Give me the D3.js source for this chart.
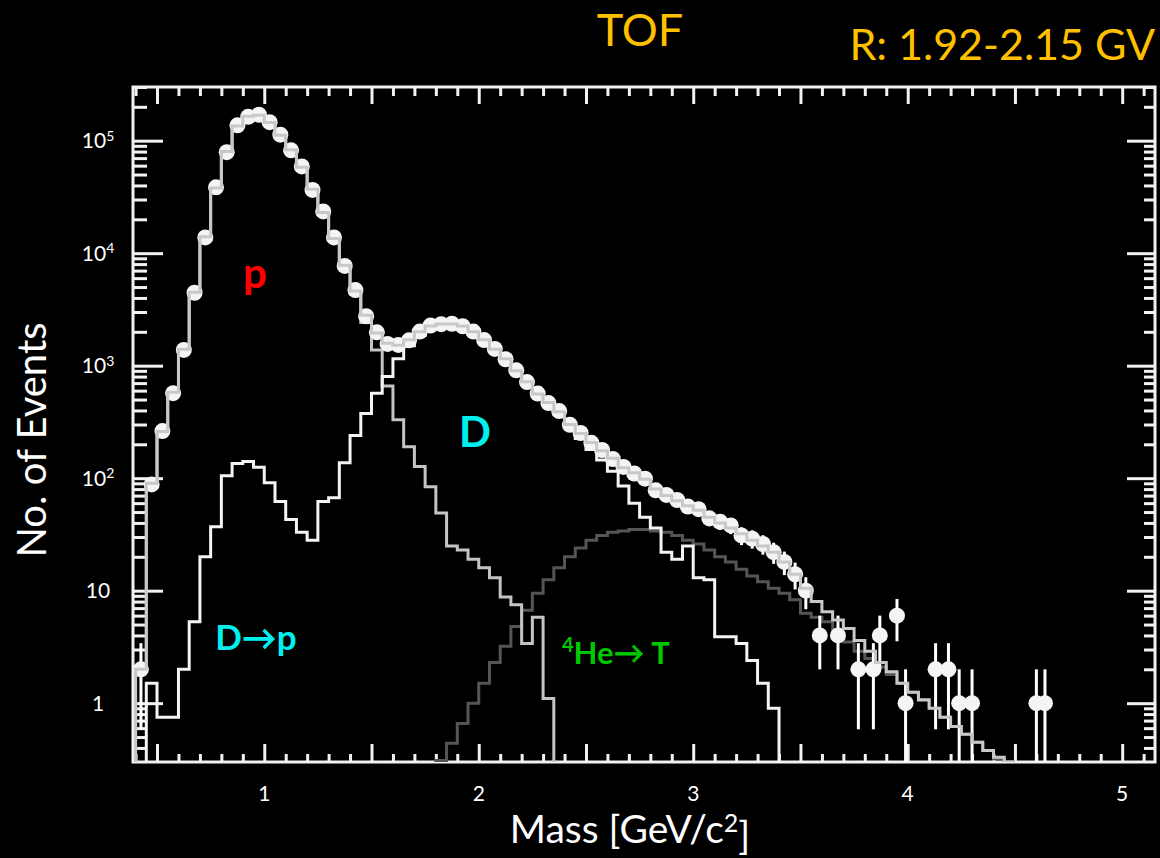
<!DOCTYPE html>
<html>
<head>
<meta charset="utf-8">
<script src="https://cdn.jsdelivr.net/npm/d3@7"></script>
<style>
  body { margin: 0; background: #000; }
  text { font-family: Lato, "Open Sans", sans-serif; }
</style>
</head>
<body>
<script>
// Histogram bins are 0.05 GeV/c^2 wide; each series lists counts from its first bin edge
const BIN = 0.05;

const totalStart = 0.40;
const totalCounts = [
  2, 90, 260, 580, 1400, 4500, 14000, 38000, 80000, 135000,
  165000, 168000, 145000, 112000, 83000, 58000, 37000, 23000, 13500, 7800,
  4600, 2800, 1950, 1580, 1520, 1700, 2000, 2250, 2350, 2350,
  2250, 2000, 1700, 1400, 1150, 900, 720, 560, 470, 390,
  300, 250, 208, 175, 150, 124, 112, 98, 80, 70,
  63, 57, 52, 45, 40, 36, 32, 28, 25, 22,
  18, 14, 10.5, 8, 6.5, 5.5, 4.6, 3.6, 2.9, 2.3,
  1.9, 1.5, 1.25, 1.07, 0.9, 0.75, 0.62, 0.53, 0.45, 0.38,
  0.33, 0.3
];

const protonStart = 0.40;
const protonCounts = [
  2, 88, 259, 579, 1398, 4495, 13980, 37960, 79900, 134870,
  164860, 167870, 144910, 111940, 82960, 57970, 36970, 22940, 13430, 7660,
  4360, 2425, 1380, 660, 330, 190, 127, 84, 49, 25,
  23, 19, 16, 13, 8.8, 7.5, 3.4, 5.8, 1.1
];

const deuteronStart = 0.45;
const deuteronCounts = [
  1.5, 0.75, 0.75, 2, 5.3, 20, 37, 105, 135, 141,
  125, 91, 62, 43, 33, 28, 62, 67, 137, 240,
  375, 570, 800, 1150, 1500, 1850, 2150, 2280, 2320, 2220,
  1980, 1680, 1380, 1130, 880, 700, 545, 450, 370, 280,
  225, 180, 145, 115, 85, 60, 45, 36, 22, 19,
  25, 13, 12.5, 3.9, 3.9, 3.4, 2.4, 1.5, 0.9
];

const tritonStart = 1.80;
const tritonCounts = [
  0.31, 0.44, 0.66, 1.0, 1.5, 2.3, 3.2, 4.8, 6.7, 9.5,
  12.5, 16, 20, 24, 28, 31, 33, 34, 35, 35,
  34, 33, 31, 28, 26, 23, 20, 18, 15.5, 13.5,
  12, 10.5, 9.5, 8.3, 6.3, 5.8, 5.3, 4.2, 3.5, 2.9,
  2.5, 2.1, 1.8, 1.5, 1.25, 1.06, 0.9, 0.75, 0.62, 0.53,
  0.45, 0.38, 0.32, 0.3
];

// Measured points, one per total bin (null = no point drawn)
const pointCounts = [
  2, 88, 262, 570, 1380, 4450, 13800, 38500, 79000, 137000,
  163000, 170000, 146000, 113000, 82000, 59000, 36500, 23500, 13800, 7700,
  4700, 2750, 1980, 1560, 1530, 1680, 2010, 2270, 2340, 2360,
  2240, 2010, 1690, 1410, 1140, 910, 715, 565, 465, 395,
  298, 252, 206, 178, 148, 126, 110, 99, 78, 71,
  64, 56, 53, 44, 41, 38, 31, 29, 26, 22,
  18, 14, 10
];
// Sparse tail points
const tailMass = [3.59, 3.675, 3.77, 3.84, 3.87, 3.95, 3.99, 4.13, 4.19, 4.24, 4.30, 4.60, 4.64];
const tailCounts = [4, 4, 2, 2, 4, 6, 1, 2, 2, 1, 1, 1, 1];

const yDecades = [1, 10, 100, 1000, 10000, 100000];
const yDecadeExp = ['', '', '2', '3', '4', '5'];
const xLabels = [1, 2, 3, 4, 5];

const W = 1160, H = 858;
const X0 = 133, X1 = 1155, Y0 = 87, Y1 = 762;
const FLOOR = 0.3;

const svg = d3.select('body').append('svg')
  .attr('width', W)
  .attr('height', H)
  .style('background', '#000');

const x = d3.scaleLinear().domain([0.388, 5.153]).range([X0, X1]);
const y = d3.scaleLog().domain([FLOOR, 3e5]).range([Y1, Y0]);

svg.append('clipPath').attr('id', 'plot-clip')
  .append('rect')
    .attr('x', X0).attr('y', Y0 - 2)
    .attr('width', X1 - X0).attr('height', Y1 - Y0 + 2);

// Tick marks on all four sides, pointing into the frame
const xAll = d3.range(0.4, 5.15, 0.1).map(v => +v.toFixed(2));
const isHalf = v => Math.abs(v * 2 - Math.round(v * 2)) < 1e-6;
const xMajor = xAll.filter(isHalf);
const xMinor = xAll.filter(v => !isHalf(v));
const yMinor = y.ticks().filter(v => !yDecades.includes(v) && v > FLOOR);

function tickAxis(axis, values, size, tx, ty) {
  const g = svg.append('g')
    .attr('class', 'ticks')
    .attr('transform', `translate(${tx}, ${ty})`)
    .call(axis.tickValues(values).tickSize(size).tickFormat(''));
  g.select('.domain').remove();
  g.selectAll('line').attr('stroke', '#f2f2f2').attr('stroke-width', 3);
}

tickAxis(d3.axisBottom(x), xMajor, 17, 0, Y0);
tickAxis(d3.axisBottom(x), xMinor, 9, 0, Y0);
tickAxis(d3.axisTop(x), xMajor, 18, 0, Y1);
tickAxis(d3.axisTop(x), xMinor, 8, 0, Y1);
tickAxis(d3.axisRight(y), yDecades, 30, X0, 0);
tickAxis(d3.axisRight(y), yMinor, 14, X0, 0);
tickAxis(d3.axisLeft(y), yDecades, 28, X1, 0);
tickAxis(d3.axisLeft(y), yMinor, 11, X1, 0);

// Frame
svg.append('rect')
  .attr('x', X0).attr('y', Y0)
  .attr('width', X1 - X0).attr('height', Y1 - Y0)
  .attr('fill', 'none')
  .attr('stroke', '#f2f2f2')
  .attr('stroke-width', 3);

// Step histograms
function stepPoints(start, counts) {
  const end = start + counts.length * BIN;
  const pts = [[start, FLOOR]];
  counts.forEach((c, i) => pts.push([start + i * BIN, c]));
  pts.push([end, counts[counts.length - 1]]);
  pts.push([end, FLOOR]);
  return pts;
}

const step = d3.line()
  .curve(d3.curveStepAfter)
  .x(d => x(d[0]))
  .y(d => y(Math.max(d[1], FLOOR)));

const plot = svg.append('g').attr('clip-path', 'url(#plot-clip)');

plot.append('path')
  .attr('d', step(stepPoints(tritonStart, tritonCounts)))
  .attr('fill', 'none').attr('stroke', '#555').attr('stroke-width', 3);

plot.append('path')
  .attr('d', step(stepPoints(protonStart, protonCounts)))
  .attr('fill', 'none').attr('stroke', '#c4c4c4').attr('stroke-width', 3);

plot.append('path')
  .attr('d', step(stepPoints(deuteronStart, deuteronCounts)))
  .attr('fill', 'none').attr('stroke', '#f4f4f4').attr('stroke-width', 3);

// Data points with Poisson error bars
const points = pointCounts
  .map((c, i) => ({ m: totalStart + (i + 0.5) * BIN, n: c }))
  .filter(d => d.n != null)
  .concat(tailMass.map((m, i) => ({ m: m, n: tailCounts[i] })));

plot.selectAll('.err')
  .data(points)
  .enter().append('line')
    .attr('class', 'err')
    .attr('x1', d => x(d.m)).attr('x2', d => x(d.m))
    .attr('y1', d => y(Math.max(d.n - Math.sqrt(d.n), FLOOR)))
    .attr('y2', d => y(d.n + Math.sqrt(d.n)))
    .attr('stroke', '#fff').attr('stroke-width', 3);

plot.selectAll('.pt')
  .data(points)
  .enter().append('circle')
    .attr('class', 'pt')
    .attr('cx', d => x(d.m))
    .attr('cy', d => y(d.n))
    .attr('r', 8)
    .attr('fill', '#f4f4f4');

plot.append('path')
  .attr('d', step(stepPoints(totalStart, totalCounts)))
  .attr('fill', 'none').attr('stroke', '#c8c8c8').attr('stroke-width', 3);

// Tick labels
const yLab = svg.append('g').selectAll('text')
  .data(yDecades)
  .enter().append('text')
    .attr('x', 98)
    .attr('y', d => y(d))
    .attr('dy', '0.36em')
    .attr('text-anchor', 'middle')
    .attr('fill', '#fff')
    .style('font-size', '21px');
yLab.append('tspan').text(d => d === 1 ? '1' : '10');
yLab.append('tspan')
  .attr('dy', '-0.55em')
  .style('font-size', '14px')
  .text((d, i) => yDecadeExp[i]);

svg.append('g').selectAll('text')
  .data(xLabels)
  .enter().append('text')
    .attr('x', d => x(d))
    .attr('y', 801)
    .attr('text-anchor', 'middle')
    .attr('fill', '#fff')
    .style('font-size', '21px')
    .text(d => d);

// Axis titles
const xTitle = svg.append('text')
  .attr('x', 630).attr('y', 843)
  .attr('text-anchor', 'middle')
  .attr('fill', '#fff')
  .style('font-size', '39px');
xTitle.append('tspan').text('Mass [GeV/c');
xTitle.append('tspan').attr('dy', '-0.45em').style('font-size', '25px').text('2');
xTitle.append('tspan').attr('dy', '0.45em').text(']');

svg.append('text')
  .attr('transform', 'translate(46, 440) rotate(-90)')
  .attr('text-anchor', 'middle')
  .attr('fill', '#fff')
  .style('font-size', '40px')
  .text('No. of Events');

// Titles
svg.append('text')
  .attr('x', 640).attr('y', 46)
  .attr('text-anchor', 'middle')
  .attr('fill', '#ffc000')
  .style('font-size', '45px')
  .text('TOF');

svg.append('text')
  .attr('x', 1155).attr('y', 60)
  .attr('text-anchor', 'end')
  .attr('fill', '#ffc000')
  .style('font-size', '43px')
  .text('R: 1.92-2.15 GV');

// Component labels
svg.append('text')
  .attr('x', 255).attr('y', 288)
  .attr('text-anchor', 'middle')
  .attr('fill', '#ff0000')
  .style('font-size', '42px').style('font-weight', 'bold')
  .text('p');

svg.append('text')
  .attr('x', 475).attr('y', 447)
  .attr('text-anchor', 'middle')
  .attr('fill', '#00f0f0')
  .style('font-size', '42px').style('font-weight', 'bold')
  .text('D');

svg.append('text')
  .attr('x', 256).attr('y', 650)
  .attr('text-anchor', 'middle')
  .attr('fill', '#00f0f0')
  .style('font-size', '35px').style('font-weight', 'bold')
  .text('D\u2192p');

const heT = svg.append('text')
  .attr('x', 562).attr('y', 660)
  .attr('fill', '#00c800')
  .style('font-size', '31px').style('font-weight', 'bold');
heT.append('tspan').attr('dy', '-0.4em').style('font-size', '20px').text('4');
heT.append('tspan').attr('dy', '0.4em').text('He\u2192 T');
</script>
</body>
</html>
